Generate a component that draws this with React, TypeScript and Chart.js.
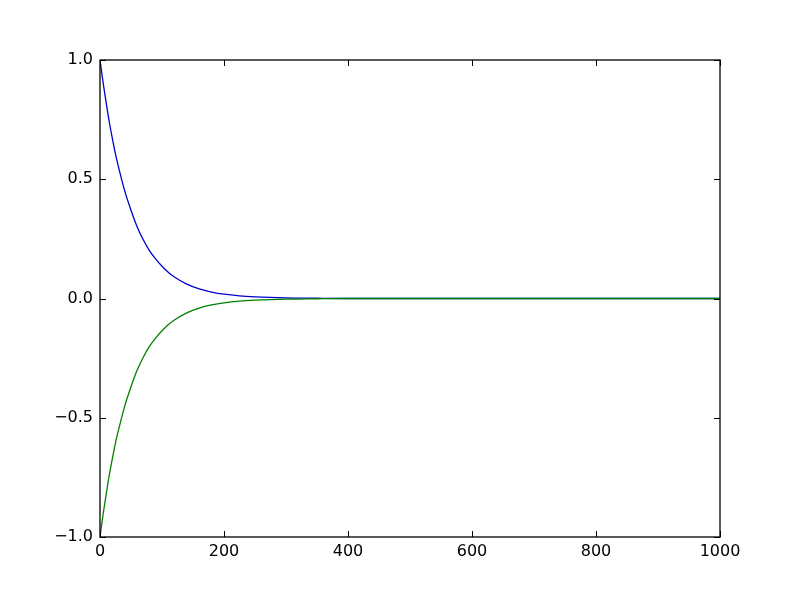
import React, { useEffect, useRef } from "react";
import { Chart, registerables } from "chart.js";

Chart.register(...registerables);

const xValues = [0, 5, 10, 15, 20, 25, 30, 40, 50, 60, 70, 80, 90, 100, 110, 120, 140, 160, 180, 200, 225, 250, 300, 350, 400, 500, 600, 700, 800, 900, 1000];
const blueValues = [1.0, 0.905, 0.82, 0.74, 0.67, 0.605, 0.55, 0.45, 0.37, 0.3, 0.245, 0.2, 0.165, 0.135, 0.11, 0.09, 0.06, 0.04, 0.027, 0.018, 0.011, 0.007, 0.0025, 0.001, 0, 0, 0, 0, 0, 0, 0];
const greenValues = [-1.0, -0.905, -0.82, -0.74, -0.67, -0.605, -0.55, -0.45, -0.37, -0.3, -0.245, -0.2, -0.165, -0.135, -0.11, -0.09, -0.06, -0.04, -0.027, -0.018, -0.011, -0.007, -0.0025, -0.001, 0, 0, 0, 0, 0, 0, 0];
const xTicks = [0, 200, 400, 600, 800, 1000];
const yTicks = [-1.0, -0.5, 0.0, 0.5, 1.0];

const framePlugin = {
  id: "frame",
  afterDatasetsDraw(chart: any) {
    const { ctx, chartArea } = chart;
    const { left, right, top, bottom } = chartArea;
    const xs = chart.scales.x;
    const ys = chart.scales.y;
    const tl = 6;
    ctx.save();
    ctx.strokeStyle = "#000";
    ctx.lineWidth = 1;
    ctx.beginPath();
    for (const v of xTicks) {
      const px = Math.round(xs.getPixelForValue(v)) + 0.5;
      ctx.moveTo(px, bottom);
      ctx.lineTo(px, bottom - tl);
      ctx.moveTo(px, top);
      ctx.lineTo(px, top + tl);
    }
    for (const v of yTicks) {
      const py = Math.round(ys.getPixelForValue(v)) + 0.5;
      ctx.moveTo(left, py);
      ctx.lineTo(left + tl, py);
      ctx.moveTo(right, py);
      ctx.lineTo(right - tl, py);
    }
    ctx.stroke();
    ctx.lineWidth = 1.3;
    ctx.strokeRect(left, top, right - left, bottom - top);
    ctx.restore();
  },
};

const fmt = (v: number) => v.toFixed(1).replace("-", "\u2212");

export default function App() {
  const ref = useRef<HTMLCanvasElement>(null);
  useEffect(() => {
    if (!ref.current) return;
    const chart = new Chart(ref.current, {
      type: "line",
      data: {
        datasets: [
          {
            data: xValues.map((x, i) => ({ x, y: blueValues[i] })),
            borderColor: "#0000cc",
            borderWidth: 1.3,
            pointRadius: 0,
            cubicInterpolationMode: "monotone",
            fill: false,
            order: 1,
          },
          {
            data: xValues.map((x, i) => ({ x, y: greenValues[i] })),
            borderColor: "#008000",
            borderWidth: 1.3,
            pointRadius: 0,
            cubicInterpolationMode: "monotone",
            fill: false,
            order: 0,
          },
        ],
      },
      options: {
        animation: false,
        responsive: false,
        events: [],
        layout: { padding: { left: 0, top: 60, right: 80, bottom: 0 } },
        plugins: { legend: { display: false }, tooltip: { enabled: false } },
        scales: {
          x: {
            type: "linear",
            min: 0,
            max: 1000,
            grid: { display: false, drawTicks: false },
            border: { display: false },
            afterBuildTicks: (s: any) => {
              s.ticks = xTicks.map((v) => ({ value: v }));
            },
            afterFit: (s: any) => {
              s.height = 60;
            },
            ticks: {
              padding: 5,
              color: "#000",
              maxRotation: 0,
              font: { family: "DejaVu Sans", size: 16 },
              callback: (v: any) => String(v),
            },
          },
          y: {
            type: "linear",
            min: -1,
            max: 1,
            grid: { display: false, drawTicks: false },
            border: { display: false },
            afterBuildTicks: (s: any) => {
              s.ticks = yTicks.map((v) => ({ value: v }));
            },
            afterFit: (s: any) => {
              s.width = 100;
            },
            ticks: {
              padding: 7,
              color: "#000",
              font: { family: "DejaVu Sans", size: 16 },
              callback: (v: any) => fmt(Number(v)),
            },
          },
        },
      },
      plugins: [framePlugin],
    });
    return () => chart.destroy();
  }, []);
  return (
    <div style={{ position: "fixed", left: 0, top: 0, width: 800, height: 597, background: "#fff" }}>
      <canvas ref={ref} width={800} height={597} style={{ display: "block" }} />
    </div>
  );
}
